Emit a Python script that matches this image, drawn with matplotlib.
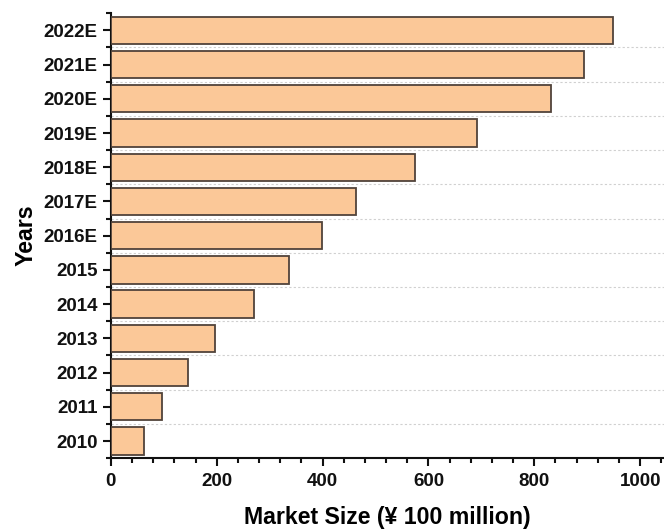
import matplotlib
matplotlib.use('Agg')
import matplotlib.pyplot as plt
import numpy as np
from matplotlib.ticker import MultipleLocator, FixedLocator

# --- data ---
years = ['2010', '2011', '2012', '2013', '2014', '2015', '2016E',
         '2017E', '2018E', '2019E', '2020E', '2021E', '2022E']
market_size = [63, 97, 145, 196, 270, 336, 398, 463, 575, 692, 831, 894, 949]

BAR_FILL = '#fbc898'
BAR_EDGE = '#51433a'

plt.rcParams['font.family'] = ['Liberation Sans', 'DejaVu Sans']
plt.rcParams['font.weight'] = 'bold'

fig = plt.figure(figsize=(6.64, 5.29), dpi=100)
ax = fig.add_axes([0.167, 0.134, 0.833, 0.841])

y = np.arange(len(years))
ax.barh(y, market_size, height=0.8, color=BAR_FILL, edgecolor=BAR_EDGE,
        linewidth=1.3, zorder=3)

ax.set_xlim(0, 1045)
ax.set_ylim(-0.5, len(years) - 0.5)

ax.set_yticks(y)
ax.set_yticklabels(years)
ax.yaxis.set_minor_locator(FixedLocator(np.arange(-0.5, len(years), 1.0)))
ax.xaxis.set_major_locator(MultipleLocator(200))
ax.xaxis.set_minor_locator(MultipleLocator(40))

# dotted separators between the bars
for b in np.arange(0.5, len(years) - 1, 1.0):
    ax.axhline(b, color='#d0d0d0', linestyle=(0, (2, 2)), linewidth=0.8, zorder=1)

for side in ['top', 'right']:
    ax.spines[side].set_visible(False)
for side in ['left', 'bottom']:
    ax.spines[side].set_linewidth(1.5)
    ax.spines[side].set_color('#111111')

ax.tick_params(axis='both', which='major', direction='out', length=6, width=1.5,
               labelsize=13.5, colors='#111111')
ax.tick_params(axis='both', which='minor', direction='out', length=3.5, width=1.5,
               colors='#111111')
ax.tick_params(axis='x', which='major', pad=5)

ax.set_xlabel('Market Size (¥ 100 million)', fontsize=16.7, fontweight='bold', labelpad=11)
ax.set_ylabel('Years', fontsize=16.7, fontweight='bold', labelpad=4)

fig.savefig('out.png', dpi=100)
